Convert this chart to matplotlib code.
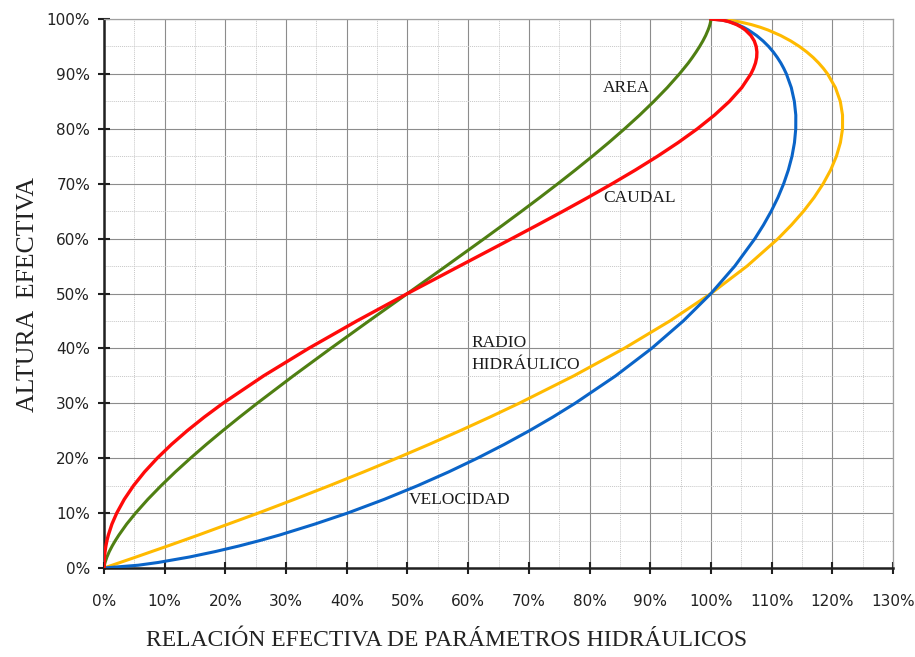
import matplotlib
matplotlib.use("Agg")
import matplotlib.pyplot as plt
from matplotlib.ticker import MultipleLocator, FuncFormatter

# Relative depth (h/D, %) and read-off relative parameters (%)
altura = [0, 0.5, 1, 2, 3, 4, 5, 6, 8, 10, 12.5, 15, 17.5, 20, 22.5, 25, 27.5,
          30, 35, 40, 45, 50, 55, 60, 62.5, 65, 67.5, 70, 72.5, 75, 77.5, 80,
          82.5, 85, 87.5, 90, 91, 92, 93, 94, 95, 96, 97, 98, 98.5, 99, 99.5,
          99.8, 100]
area = [0, 0.06, 0.17, 0.48, 0.87, 1.34, 1.87, 2.45, 3.73, 5.20, 7.21, 9.41,
        11.75, 14.24, 16.84, 19.55, 22.35, 25.23, 31.19, 37.35, 43.64, 50.0,
        56.36, 62.65, 65.75, 68.81, 71.82, 74.77, 77.65, 80.45, 83.16, 85.76,
        88.25, 90.59, 92.79, 94.80, 95.54, 96.27, 96.93, 97.55, 98.13, 98.66,
        99.13, 99.52, 99.69, 99.83, 99.94, 99.98, 100.0]
caudal = [0, 0.003, 0.015, 0.067, 0.16, 0.30, 0.48, 0.71, 1.30, 2.09, 3.33,
          4.86, 6.67, 8.76, 11.10, 13.70, 16.53, 19.58, 26.29, 33.70, 41.65,
          50.0, 58.57, 67.18, 71.44, 75.64, 79.74, 83.72, 87.55, 91.19, 94.60,
          97.75, 100.58, 103.04, 105.07, 106.58, 107.01, 107.34, 107.53,
          107.57, 107.45, 107.14, 106.58, 105.67, 105.03, 104.20, 103.02,
          101.92, 100.0]
radio = [0, 1.33, 2.65, 5.28, 7.87, 10.47, 13.02, 15.55, 20.47, 25.41, 31.36,
         37.15, 42.78, 48.24, 53.53, 58.65, 63.60, 68.38, 77.40, 85.69, 93.23,
         100.0, 105.95, 111.06, 113.27, 115.26, 117.00, 118.49, 119.72, 120.67,
         121.33, 121.68, 121.68, 121.31, 120.51, 119.21, 118.53, 117.74,
         116.84, 115.79, 114.58, 113.16, 111.48, 109.41, 108.14, 106.63,
         104.66, 102.92, 100.0]
velocidad = [0, 5.62, 8.90, 14.08, 18.37, 22.21, 25.69, 28.92, 34.74, 40.12,
             46.16, 51.68, 56.78, 61.51, 65.93, 70.07, 73.96, 77.61, 84.30,
             90.22, 95.44, 100.0, 103.93, 107.24, 108.66, 109.93, 111.04,
             111.98, 112.75, 113.35, 113.76, 113.97, 113.98, 113.74, 113.24,
             112.43, 112.00, 111.51, 110.93, 110.27, 109.50, 108.59, 107.51,
             106.18, 105.36, 104.37, 103.08, 101.93, 100.0]

fig = plt.figure(figsize=(9.15, 6.57), dpi=100)
ax = fig.add_axes([0.1137, 0.1355, 0.976 - 0.1137, 0.971 - 0.1355])

c_green = "#4F7F12"
c_red = "#FF0A0A"
c_blue = "#0A64C8"
c_yellow = "#FFBA00"

ax.plot(radio, altura, color=c_yellow, lw=2.2, zorder=3, solid_joinstyle="round")
ax.plot(velocidad, altura, color=c_blue, lw=2.2, zorder=4, solid_joinstyle="round")
ax.plot(area, altura, color=c_green, lw=2.2, zorder=5, solid_joinstyle="round")
ax.plot(caudal, altura, color=c_red, lw=2.4, zorder=6, solid_joinstyle="round")

ax.set_xlim(0, 130)
ax.set_ylim(0, 100)
ax.xaxis.set_major_locator(MultipleLocator(10))
ax.yaxis.set_major_locator(MultipleLocator(10))
ax.xaxis.set_minor_locator(MultipleLocator(5))
ax.yaxis.set_minor_locator(MultipleLocator(5))
fmt = FuncFormatter(lambda v, p: f"{int(round(v))}%")
ax.xaxis.set_major_formatter(fmt)
ax.yaxis.set_major_formatter(fmt)

ax.grid(which="major", color="#8c8c8c", lw=0.8, zorder=1)
ax.grid(which="minor", color="#c8c8c8", lw=0.7, ls=(0, (1, 1)), zorder=1)
ax.set_axisbelow(True)

for s in ["top", "right"]:
    ax.spines[s].set_color("#a0a0a0")
    ax.spines[s].set_linewidth(0.9)
for s in ["left", "bottom"]:
    ax.spines[s].set_color("#202020")
    ax.spines[s].set_linewidth(1.8)

ax.tick_params(which="major", axis="y", direction="inout", length=8, width=1.5,
               color="#202020", labelsize=11, pad=6)
ax.tick_params(which="major", axis="x", direction="inout", length=8, width=1.5,
               color="#202020", labelsize=11, pad=15)
ax.tick_params(which="minor", length=0)
for lab in ax.get_xticklabels() + ax.get_yticklabels():
    lab.set_family("DejaVu Sans")
    lab.set_color("#222222")

serif = "Liberation Serif"
fig.text(447 / 915, 1 - 641 / 657, "RELACIÓN EFECTIVA DE PARÁMETROS HIDRÁULICOS",
         family=serif, fontsize=17, color="#222222", ha="center", va="center")
fig.text(28 / 915, 1 - 295 / 657, "ALTURA  EFECTIVA", family=serif,
         fontsize=18.5, color="#222222", ha="center", va="center", rotation=90)

tk = dict(family=serif, fontsize=12.5, color="#1a1a1a", va="center", ha="left")
ax.text(82.2, 87.4, "AREA", **tk)
ax.text(82.2, 67.4, "CAUDAL", **tk)
ax.text(60.5, 41.0, "RADIO", **tk)
ax.text(60.5, 37.0, "HIDRÁULICO", **tk)
ax.text(50.2, 12.4, "VELOCIDAD", **tk)

fig.savefig("out.png", dpi=100)
